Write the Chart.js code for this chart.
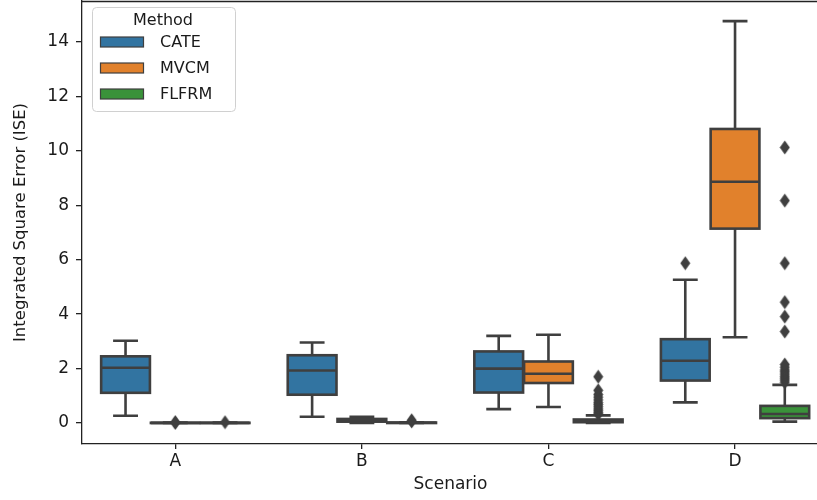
<!DOCTYPE html>
<html>
<head>
<meta charset="utf-8">
<script src="https://cdn.jsdelivr.net/npm/chart.js@4.4.1/dist/chart.umd.min.js"></script>
<style>
  html, body { margin: 0; padding: 0; background: #fff; overflow: hidden; }
  #page { width: 817px; height: 500px; position: relative; overflow: hidden; }
  #wrap { width: 826px; height: 506px; position: absolute; left: 0; top: -6px; }
</style>
</head>
<body>
<div id="page"><div id="wrap"><canvas id="chart"></canvas></div></div>
<script>
// scenarios on the x axis
const scenarios = ["A", "B", "C", "D"];
const methods = ["CATE", "MVCM", "FLFRM"];
const methodColors = ["#3274a1", "#e1812c", "#3a923a"];
const yTicks = [0, 2, 4, 6, 8, 10, 12, 14];

// box stats per scenario: [whisker low, q1, median, q3, whisker high]
const cateStats = [
  [0.27, 1.11, 2.03, 2.45, 3.02],
  [0.23, 1.04, 1.93, 2.49, 2.96],
  [0.51, 1.12, 2.00, 2.63, 3.20],
  [0.76, 1.56, 2.29, 3.08, 5.26]
];
const mvcmStats = [
  [0.00, 0.00, 0.005, 0.01, 0.02],
  [0.00, 0.05, 0.10, 0.15, 0.23],
  [0.59, 1.47, 1.81, 2.26, 3.24],
  [3.15, 7.14, 8.86, 10.80, 14.76]
];
const flfrmStats = [
  [0.00, 0.00, 0.005, 0.01, 0.02],
  [0.00, 0.00, 0.01, 0.02, 0.03],
  [0.00, 0.03, 0.07, 0.13, 0.28],
  [0.05, 0.18, 0.33, 0.63, 1.40]
];

// outliers per scenario
const cateOutliers = [[], [], [], [5.87]];
const mvcmOutliers = [[0.03, 0.01], [], [], []];
const flfrmOutliers = [
  [0.03],
  [0.06, 0.1],
  [0.33, 0.38, 0.45, 0.52, 0.6, 0.68, 0.75, 0.85, 0.95, 1.05, 1.2, 1.7],
  [1.5, 1.58, 1.65, 1.72, 1.8, 1.88, 1.95, 2.05, 2.15, 3.36, 3.91, 4.44, 5.87, 8.17, 10.12]
];

const allStats = [cateStats, mvcmStats, flfrmStats];
const allOutliers = [cateOutliers, mvcmOutliers, flfrmOutliers];

const lineColor = "#3f3f3f";
const textColor = "#1a1a1a";
const hueWidth = 0.8 / methods.length;

function hueOffset(m) {
  return -0.4 + hueWidth * (m + 0.5);
}

// thin diamond marker like matplotlib 'd'
function makeDiamond() {
  const c = document.createElement("canvas");
  c.width = 11; c.height = 15;
  const g = c.getContext("2d");
  g.fillStyle = lineColor;
  g.beginPath();
  g.moveTo(5.5, 0.5);
  g.lineTo(10.5, 7.5);
  g.lineTo(5.5, 14.5);
  g.lineTo(0.5, 7.5);
  g.closePath();
  g.fill();
  return c;
}
const diamond = makeDiamond();

const outlierDatasets = methods.map((name, m) => {
  const pts = [];
  allOutliers[m].forEach((vals, s) => {
    vals.forEach(v => pts.push({ x: s + hueOffset(m), y: v }));
  });
  return {
    label: name,
    data: pts,
    pointStyle: diamond,
    pointRadius: 6,
    backgroundColor: lineColor,
    borderColor: lineColor
  };
});

const boxPlugin = {
  id: "boxes",
  beforeDatasetsDraw(chart) {
    const { ctx, scales: { x, y } } = chart;
    ctx.save();
    allStats.forEach((stats, m) => {
      stats.forEach((st, s) => {
        const cx = s + hueOffset(m);
        const left = x.getPixelForValue(cx - hueWidth * 0.49);
        const right = x.getPixelForValue(cx + hueWidth * 0.49);
        const mid = x.getPixelForValue(cx);
        const capL = x.getPixelForValue(cx - hueWidth * 0.25);
        const capR = x.getPixelForValue(cx + hueWidth * 0.25);
        const [lo, q1, med, q3, hi] = st.map(v => y.getPixelForValue(v));
        ctx.lineWidth = 2.6;
        ctx.strokeStyle = lineColor;
        // whiskers
        ctx.beginPath();
        ctx.moveTo(mid, q1); ctx.lineTo(mid, lo);
        ctx.moveTo(mid, q3); ctx.lineTo(mid, hi);
        ctx.moveTo(capL, lo); ctx.lineTo(capR, lo);
        ctx.moveTo(capL, hi); ctx.lineTo(capR, hi);
        ctx.stroke();
        // box
        ctx.fillStyle = methodColors[m];
        ctx.fillRect(left, q3, right - left, q1 - q3);
        ctx.strokeRect(left, q3, right - left, q1 - q3);
        // median
        ctx.beginPath();
        ctx.moveTo(left, med); ctx.lineTo(right, med);
        ctx.stroke();
      });
    });
    ctx.restore();
  },
  afterDraw(chart) {
    const { ctx, chartArea } = chart;
    ctx.save();
    // top spine
    ctx.strokeStyle = "#222";
    ctx.lineWidth = 1.3;
    ctx.beginPath();
    ctx.moveTo(chartArea.left, chartArea.top + 0.5);
    ctx.lineTo(chartArea.right, chartArea.top + 0.5);
    ctx.stroke();
    // legend (canvas is shifted up 6px)
    const oy = 6;
    const lx = 92.5, ly = 7.5 + oy, lw = 143, lh = 104;
    ctx.fillStyle = "rgba(255,255,255,0.85)";
    ctx.strokeStyle = "#d0d0d0";
    ctx.lineWidth = 1;
    ctx.beginPath();
    ctx.roundRect(lx, ly, lw, lh, 4);
    ctx.fill();
    ctx.stroke();
    ctx.fillStyle = textColor;
    ctx.font = "16px 'DejaVu Sans'";
    ctx.textAlign = "center";
    ctx.textBaseline = "middle";
    ctx.fillText("Method", 163, 21 + oy);
    ctx.textAlign = "left";
    methods.forEach((name, m) => {
      const ry = 42 + m * 26 + oy;
      ctx.fillStyle = methodColors[m];
      ctx.fillRect(100.5, ry - 5, 43, 10);
      ctx.strokeStyle = lineColor;
      ctx.lineWidth = 1.2;
      ctx.strokeRect(100.5, ry - 5, 43, 10);
      ctx.fillStyle = textColor;
      ctx.fillText(name, 160, ry + 1);
    });
    ctx.restore();
  }
};

new Chart(document.getElementById("chart"), {
  type: "scatter",
  data: { datasets: outlierDatasets },
  plugins: [boxPlugin],
  options: {
    responsive: true,
    maintainAspectRatio: false,
    animation: false,
    layout: { padding: { top: 1, right: 0, left: 0, bottom: 0 } },
    plugins: {
      legend: { display: false },
      tooltip: { enabled: false }
    },
    scales: {
      x: {
        type: "linear",
        min: -0.5,
        max: 3.45,
        afterBuildTicks: (scale) => {
          scale.ticks = scenarios.map((s, i) => ({ value: i }));
        },
        afterFit: (scale) => {
          scale.height = 56;
          scale.paddingLeft = 0;
          scale.paddingRight = 0;
        },
        ticks: {
          callback: (v) => scenarios[v],
          color: textColor,
          font: { family: "DejaVu Sans", size: 17 },
          padding: 2
        },
        grid: {
          drawOnChartArea: false,
          tickLength: 5,
          color: "#222",
          lineWidth: 1.3
        },
        border: { color: "#222", width: 1.3 },
        title: {
          display: true,
          text: "Scenario",
          color: textColor,
          font: { family: "DejaVu Sans", size: 17 },
          padding: { top: 0, bottom: 5 }
        }
      },
      y: {
        min: -0.77,
        max: 15.5,
        afterBuildTicks: (scale) => {
          scale.ticks = yTicks.map(v => ({ value: v }));
        },
        afterFit: (scale) => {
          scale.width = 82;
          scale.paddingTop = 0;
          scale.paddingBottom = 0;
        },
        ticks: {
          color: textColor,
          font: { family: "DejaVu Sans", size: 17 },
          padding: 7
        },
        grid: {
          drawOnChartArea: false,
          tickLength: 6,
          color: "#222",
          lineWidth: 1.3
        },
        border: { color: "#222", width: 1.3 },
        title: {
          display: true,
          text: "Integrated Square Error (ISE)",
          color: textColor,
          font: { family: "DejaVu Sans", size: 16.5 },
          padding: { top: 11, bottom: 0 }
        }
      }
    }
  }
});
</script>
</body>
</html>
